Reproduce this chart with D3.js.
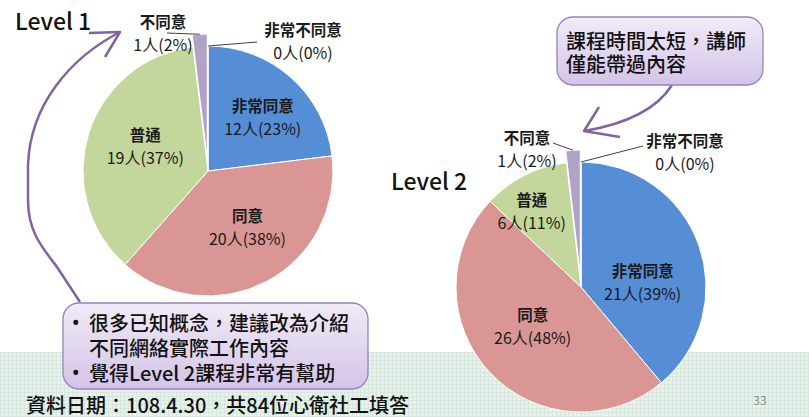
<!DOCTYPE html>
<html lang="zh-Hant-TW"><head><meta charset="utf-8">
<script src="https://cdn.jsdelivr.net/npm/d3@7"></script>
<style>
html,body{margin:0;padding:0;background:#fff;}
svg{display:block;font-family:"Noto Sans CJK TC","Noto Sans",sans-serif;}
</style></head>
<body>
<svg id="c" width="809" height="417" lang="zh-TW"></svg>
<script>
// ---- data ----
const categories = ["非常同意","同意","普通","不同意","非常不同意"];
const level1Values = [12,20,19,1,0];
const level2Values = [21,26,6,1,0];
const chartTitles = ["Level 1","Level 2"];
const colors = ["#558ED5","#D99694","#C3D69B","#B3A2C7","#8064A2"];
const note1Lines = ["很多已知概念，建議改為介紹","不同網絡實際工作內容","覺得Level 2課程非常有幫助"];
const note1Bullets = [true,false,true];
const note2Lines = ["課程時間太短，講師","僅能帶過內容"];
const footText = "資料日期：108.4.30，共84位心衛社工填答";
const pageNo = "33";

// ---- layout ----
const svg = d3.select("#c");
const defs = svg.append("defs");
const pat = defs.append("pattern").attr("id","grid").attr("width",4).attr("height",4).attr("patternUnits","userSpaceOnUse");
pat.append("rect").attr("width",4).attr("height",4).attr("fill","#e8f1ec");
pat.append("path").attr("d","M0,0.5H4M0.5,0V4").attr("stroke","#d8e7de").attr("stroke-width",1);
const grad = defs.append("linearGradient").attr("id","boxg").attr("x1",0).attr("y1",0).attr("x2",0).attr("y2",1);
grad.append("stop").attr("offset","0%").attr("stop-color","#f1ebf7");
grad.append("stop").attr("offset","100%").attr("stop-color","#d3c4e8");

svg.append("rect").attr("x",0).attr("y",352).attr("width",809).attr("height",65).attr("fill","url(#grid)");

const charts = [
  {values: level1Values, title: chartTitles[0], cx:208, cy:171, r:125, tx:15, ty:20,
   nudge:[[7,-1],[6,-8],[6,-4]],
   outside:[{i:3, lx:163, ly:32.5, ax:167, ay:33},{i:4, lx:303, ly:40.5, ax:257, ay:42}]},
  {values: level2Values, title: chartTitles[1], cx:581, cy:287, r:125, tx:391, ty:180,
   nudge:[[-6,19],[4,-11],[-17,-12]],
   outside:[{i:3, lx:527, ly:148.5, ax:553, ay:143},{i:4, lx:685, ly:151.5, ax:643, ay:146}]}
];
const explode = 12;

function twoLine(parent, x, y, name, num){
  const t = parent.append("text").attr("text-anchor","middle").attr("fill","#1a1a1a");
  t.append("tspan").attr("x",x).attr("y",y-11.5).attr("dominant-baseline","central")
    .attr("font-size",15.5).attr("font-weight",600).text(name);
  t.append("tspan").attr("x",x).attr("y",y+11.5).attr("dominant-baseline","central")
    .attr("font-size",16).attr("font-weight",400).text(num);
}

charts.forEach(ch => {
  const total = d3.sum(ch.values);
  const pie = d3.pie().sort(null).value(d=>d)(ch.values);
  const arc = d3.arc().innerRadius(0).outerRadius(ch.r);
  const g = svg.append("g").attr("transform",`translate(${ch.cx},${ch.cy})`);
  g.selectAll("path").data(pie).join("path")
    .attr("d",arc)
    .attr("fill",(d,i)=>colors[i])
    .attr("stroke","#fff").attr("stroke-width",1)
    .attr("transform",(d,i)=>{
      if(i!==3) return null;
      const a=(d.startAngle+d.endAngle)/2;
      return `translate(${explode*Math.sin(a)},${-explode*Math.cos(a)})`;
    });
  const lab = d3.arc().innerRadius(72).outerRadius(72);
  pie.slice(0,3).forEach((d,i)=>{
    const c = lab.centroid(d);
    const pct = Math.round(d.value/total*100);
    twoLine(g, c[0]+ch.nudge[i][0], c[1]+ch.nudge[i][1], categories[i], `${d.value}人(${pct}%)`);
  });
  ch.outside.forEach(o=>{
    const d = pie[o.i];
    const a=(d.startAngle+d.endAngle)/2;
    const rr = ch.r + (o.i===3?explode:0);
    const px = ch.cx + rr*Math.sin(a), py = ch.cy - rr*Math.cos(a);
    svg.append("line").attr("x1",o.ax).attr("y1",o.ay).attr("x2",px).attr("y2",py)
      .attr("stroke","#404040").attr("stroke-width",1);
    const pct = Math.round(d.value/total*100);
    twoLine(svg, o.lx, o.ly, categories[o.i], `${d.value}人(${pct}%)`);
  });
  svg.append("text").attr("x",ch.tx).attr("y",ch.ty).attr("dominant-baseline","central")
    .attr("font-size",23).attr("font-weight",500).attr("fill","#111").text(ch.title);
});

// arrows
const arrowColor = "#8064A2";
svg.append("path").attr("d","M80,302 L57,267 C40,245 28,230 28,200 L28,165 C30,105 70,58 120,32")
  .attr("fill","none").attr("stroke",arrowColor).attr("stroke-width",2.5);
svg.append("path").attr("d","M89,33 L120,32 L105,57").attr("fill","none").attr("stroke",arrowColor).attr("stroke-width",2.5).attr("stroke-linejoin","round");
svg.append("path").attr("d","M672,85 Q650,120 584,131").attr("fill","none").attr("stroke",arrowColor).attr("stroke-width",2.5);
svg.append("path").attr("d","M599,107 L584,131 L620,137").attr("fill","none").attr("stroke",arrowColor).attr("stroke-width",2.5).attr("stroke-linejoin","round");

// note boxes
svg.append("rect").attr("x",63).attr("y",303).attr("width",305).attr("height",86).attr("rx",16)
  .attr("fill","url(#boxg)").attr("stroke","#9a80c0").attr("stroke-width",1.3);
const n1 = svg.append("text").attr("font-size",20).attr("font-weight",500).attr("fill","#111");
note1Lines.forEach((t,i)=>{
  const y = 322 + i*25;
  if(note1Bullets[i]) n1.append("tspan").attr("x",72).attr("y",y).attr("dominant-baseline","central")
    .attr("font-family","Noto Sans, sans-serif").text("•");
  n1.append("tspan").attr("x",89).attr("y",y).attr("dominant-baseline","central").text(t);
});
svg.append("rect").attr("x",557).attr("y",17).attr("width",206).attr("height",68).attr("rx",16)
  .attr("fill","url(#boxg)").attr("stroke","#9a80c0").attr("stroke-width",1.3);
const n2 = svg.append("text").attr("font-size",20).attr("font-weight",500).attr("fill","#111");
note2Lines.forEach((t,i)=>{
  n2.append("tspan").attr("x",566).attr("y",40+i*23).attr("dominant-baseline","central").text(t);
});

svg.append("text").attr("x",26).attr("y",404).attr("dominant-baseline","central").attr("font-size",20).attr("font-weight",500).attr("fill","#111").text(footText);
svg.append("text").attr("x",760).attr("y",399).attr("text-anchor","middle").attr("dominant-baseline","central").attr("font-size",12).attr("fill","#8c8c8c").text(pageNo);
</script>
</body></html>
